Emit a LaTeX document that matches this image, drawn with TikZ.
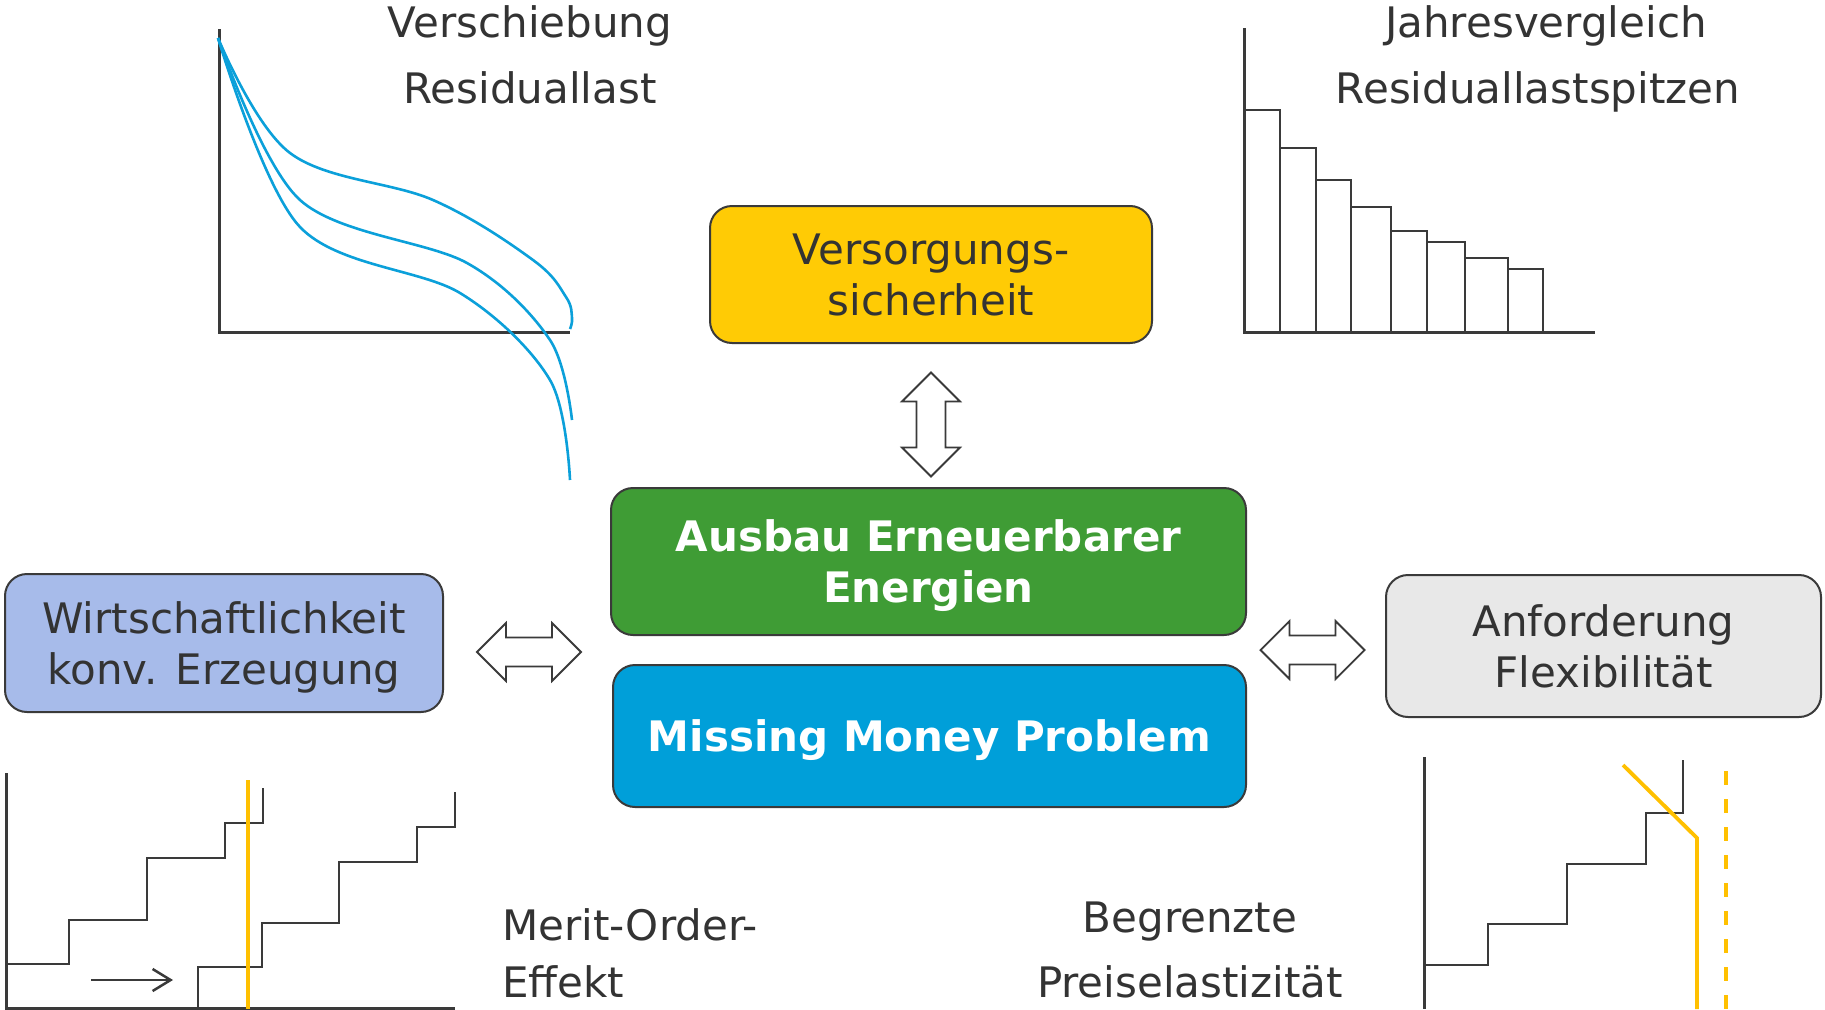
\documentclass[tikz,border=0pt]{standalone}
\usepackage{fontspec}
\setmainfont{DejaVu Sans}
\usetikzlibrary{positioning,arrows.meta}

\definecolor{txtgray}{HTML}{333333}
\definecolor{linegray}{HTML}{3A3A3A}
\definecolor{vsyellow}{HTML}{FFCB05}
\definecolor{eegreen}{HTML}{3F9C35}
\definecolor{mmblue}{HTML}{009FD9}
\definecolor{wkblue}{HTML}{A7BBEA}
\definecolor{afgray}{HTML}{E8E8E8}
\definecolor{curveblue}{HTML}{0BA0DA}
\definecolor{pricegold}{HTML}{FFC000}

\newcommand{\bigfont}{\fontsize{42}{51}\selectfont}

\tikzset{
  box/.style={draw=linegray, line width=2pt, rounded corners=22pt, align=center,
    font=\bigfont, text=txtgray, inner sep=0pt, text depth=0pt},
  charttext/.style={font=\bigfont, text=txtgray, inner sep=0pt, anchor=base},
  chartaxis/.style={draw=linegray, line width=3pt},
  stairs/.style={draw=linegray, line width=2.5pt},
  curve/.style={draw=curveblue, line width=2.6pt},
  price/.style={draw=pricegold, line width=3.8pt},
  dblarr/.pic={\draw[line width=1.8pt, draw=linegray, fill=white]
    (-52,0) -- (-23,-29) -- (-23,-14.5) -- (23,-14.5) -- (23,-29) -- (52,0)
    -- (23,29) -- (23,14.5) -- (-23,14.5) -- (-23,29) -- cycle;}
}

\begin{document}
\begin{tikzpicture}[x=1pt,y=-1pt]
\useasboundingbox[fill=white] (0,0) rectangle (1825,1009);

% Kaesten
\node[box, fill=vsyellow, minimum width=442pt, minimum height=137pt] (vs) at (931,274.5) {Versorgungs-\\sicherheit};
\node[box, fill=eegreen, text=white, font=\bigfont\bfseries, minimum width=635pt, minimum height=147pt] (ee) at (928.5,561.5) {Ausbau Erneuerbarer\\Energien};
\node[box, fill=mmblue, text=white, font=\bigfont\bfseries, minimum width=633pt, minimum height=142pt] (mm) at (929.5,736) {Missing Money Problem};
\node[box, fill=wkblue, minimum width=438pt, minimum height=138pt] (wk) at (224,643) {Wirtschaftlichkeit\\konv. Erzeugung};
\node[box, fill=afgray, minimum width=435pt, minimum height=142pt] (af) at (1603.5,646) {Anforderung\\Flexibilität};

% Doppelpfeile
\pic at (529,652) {dblarr};
\pic at (1312.5,650) {dblarr};
\pic[rotate=90] at (931,424.5) {dblarr};

% Verschiebung Residuallast
\node[charttext] (vs1) at (530,37) {Verschiebung};
\node[charttext, below=66pt of vs1.base, anchor=base] (vs2) {Residuallast};
\draw[chartaxis] (219,29) -- (219,332) -- (570,332);
\draw[curve] plot[smooth, tension=0.6] coordinates {(218,38) (290,153) (433,200) (533,260) (566,297) (572,318) (570,329)};
\draw[curve] plot[smooth, tension=0.55] coordinates {(218,38) (300,200) (467,263) (550,340) (572,420)};
\draw[curve] plot[smooth, tension=0.55] coordinates {(218,38) (300,227) (460,293) (550,380) (570,480)};

% Jahresvergleich
\node[charttext] (jv1) at (1546,37) {Jahresvergleich};
\node[charttext, below=66pt of jv1.base, anchor=base, xshift=-8pt] (jv2) {Residuallastspitzen};
\draw[chartaxis] (1244,28) -- (1244,332) -- (1595,332);
\foreach \xa/\xb/\yt in {1244/1280/110, 1280/1316/148, 1316/1351/180, 1351/1391/207,
                         1391/1427/231, 1427/1465/242, 1465/1508/258, 1508/1543/269}
  \draw[stairs] (\xa,332) rectangle (\xb,\yt);

% Merit-Order
\node[charttext, anchor=base west] (mo1) at (502,940) {Merit-Order-};
\node[charttext, below=57pt of mo1.base west, anchor=base west] (mo2) {Effekt};
\draw[chartaxis] (6,773) -- (6,1008) -- (455,1008);
\draw[stairs] (6,964) -- (69,964) -- (69,920) -- (147,920) -- (147,858) -- (225,858) -- (225,823) -- (263,823) -- (263,788);
\draw[stairs] (198,1008) -- (198,967) -- (262,967) -- (262,923) -- (339,923) -- (339,862) -- (417,862) -- (417,827) -- (455,827) -- (455,792);
\draw[price] (248,780) -- (248,1009);
\draw[stairs, -{Straight Barb[length=18pt, width=22pt]}] (91,980) -- (173,980);

% Preiselastizitaet
\node[charttext] (bp1) at (1190,932) {Begrenzte};
\node[charttext, below=65pt of bp1.base, anchor=base] (bp2) {Preiselastizität};
\draw[chartaxis] (1424,757) -- (1424,1009);
\draw[stairs] (1424,965) -- (1488,965) -- (1488,924) -- (1567,924) -- (1567,864) -- (1646,864) -- (1646,813) -- (1683,813) -- (1683,760);
\draw[price] (1623,765) -- (1697,838) -- (1697,1009);
\draw[price, dash pattern=on 14pt off 14pt] (1726,771) -- (1726,1009);
\end{tikzpicture}
\end{document}
